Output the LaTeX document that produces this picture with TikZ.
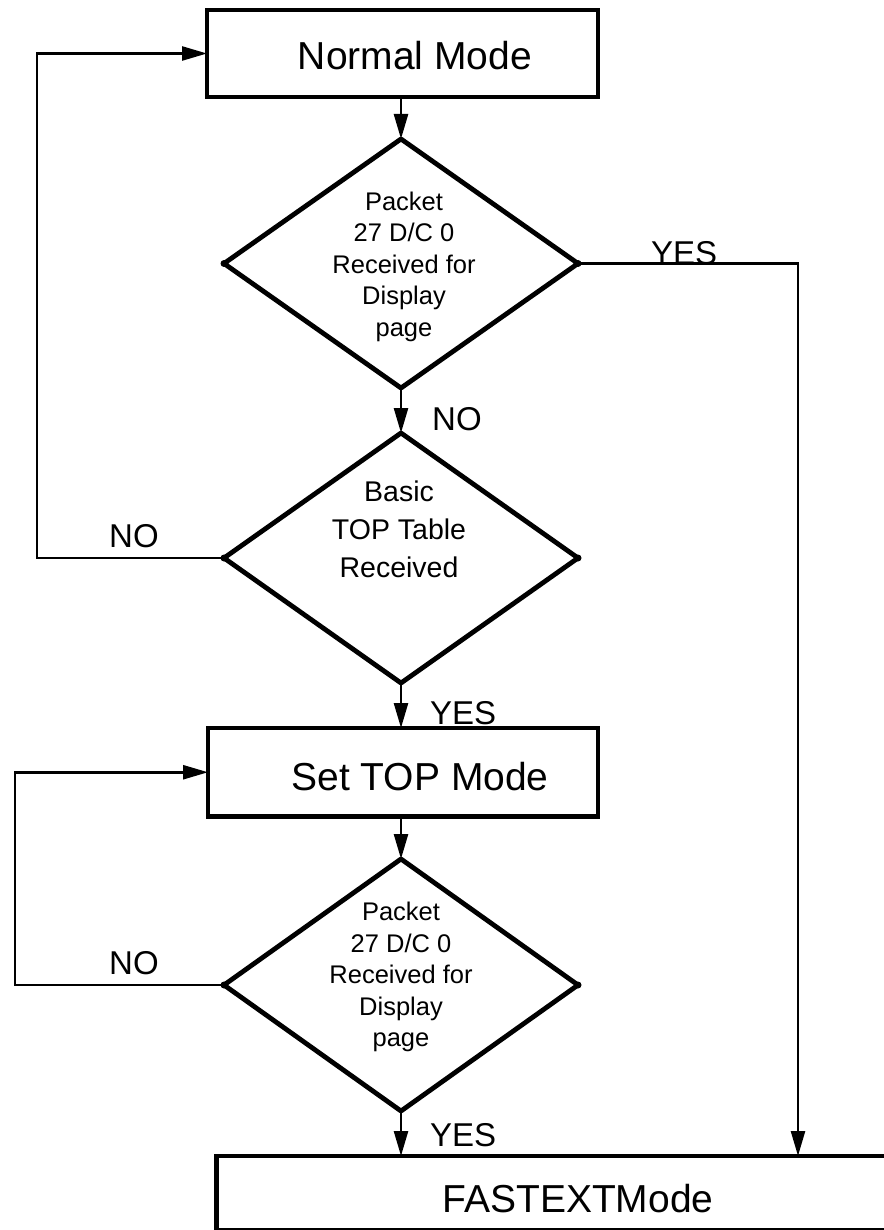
\documentclass[tikz,border=0pt]{standalone}
\usepackage{fontspec}
\setmainfont{Liberation Sans}
\usetikzlibrary{arrows.meta,shapes.geometric}
\begin{document}
\begin{tikzpicture}[x=1pt,y=-1pt,
  conn/.style={line width=2.5pt},
  arr/.style={conn,-{Triangle[length=25pt,width=14pt]}},
  box/.style={draw,line width=4.8pt,rectangle,inner sep=0pt,outer sep=0pt},
  dec/.style={draw,line width=4.8pt,diamond,inner sep=0pt,outer sep=0pt,line join=round},
  bigtxt/.style={font=\fontsize{39}{47}\selectfont,inner sep=0pt,anchor=base},
  lbl/.style={font=\fontsize{33}{40}\selectfont,inner sep=0pt,anchor=base west},
  smalltxt/.style={font=\fontsize{25.5}{31.5}\selectfont,align=center,inner sep=0pt,anchor=north},
  midtxt/.style={font=\fontsize{28.5}{38}\selectfont,align=center,inner sep=0pt,anchor=north},
  vdot/.style={circle,fill,inner sep=0pt,minimum size=7pt}
]
\useasboundingbox (0,0) rectangle (883,1230);

% boxes
\node[box,minimum width=391pt,minimum height=87pt] (nm) at (402.5,53.5) {};
\node[box,minimum width=390pt,minimum height=88.5pt] (st) at (403,772.25) {};
\node[box,minimum width=783.5pt,minimum height=74pt] (fx) at (608.25,1193) {};

% decisions
\node[dec,minimum width=354pt,minimum height=249pt] (d1) at (401,263.5) {};
\node[dec,minimum width=354pt,minimum height=250pt] (d2) at (401,558) {};
\node[dec,minimum width=354pt,minimum height=252pt] (d3) at (401,985) {};

% vertex dots
\node[vdot] (d1w) at (d1.west) {};
\node[vdot] (d1e) at (d1.east) {};
\node[vdot] (d2w) at (d2.west) {};
\node[vdot] (d2e) at (d2.east) {};
\node[vdot] (d3w) at (d3.west) {};
\node[vdot] (d3e) at (d3.east) {};

% texts
\node[bigtxt] (nmt) at (415,70) {Normal Mode};
\node[bigtxt] (stt) at (420,790) {Set TOP Mode};
\node[bigtxt] (fxt) at (578,1212) {FASTEXTMode};
\node[smalltxt] (d1t) at (404,191.5) {Packet\\27 D/C 0\\Received for\\Display\\page};
\node[midtxt] (d2t) at (399,481) {Basic\\TOP Table\\Received};
\node[smalltxt] (d3t) at (401,902) {Packet\\27 D/C 0\\Received for\\Display\\page};

% labels
\node[lbl] (y1) at (651,265) {YES};
\node[lbl] (n1) at (432,430) {NO};
\node[lbl] (n2) at (109,547) {NO};
\node[lbl] (y2) at (430,724) {YES};
\node[lbl] (n3) at (109,974) {NO};
\node[lbl] (y3) at (430,1146) {YES};

% connectors
\coordinate (ry) at (798,263.5);
\coordinate (l1) at (37,558);
\coordinate (l2) at (15,985);
\draw[arr] (d1.north |- nm.south) -- (d1.north);
\draw[arr] (d1.south) -- (d2.north);
\draw[arr] (d2.south) -- (d2.south |- st.north);
\draw[arr] (d3.north |- st.south) -- (d3.north);
\draw[arr] (d3.south) -- (d3.south |- fx.north);
\draw[arr] (d1.east) -- (ry) -- (ry |- fx.north);
\draw[arr] (d2.west) -- (l1) |- (nm.west);
\draw[arr] (d3.west) -- (l2) |- (st.west);
\end{tikzpicture}
\end{document}
